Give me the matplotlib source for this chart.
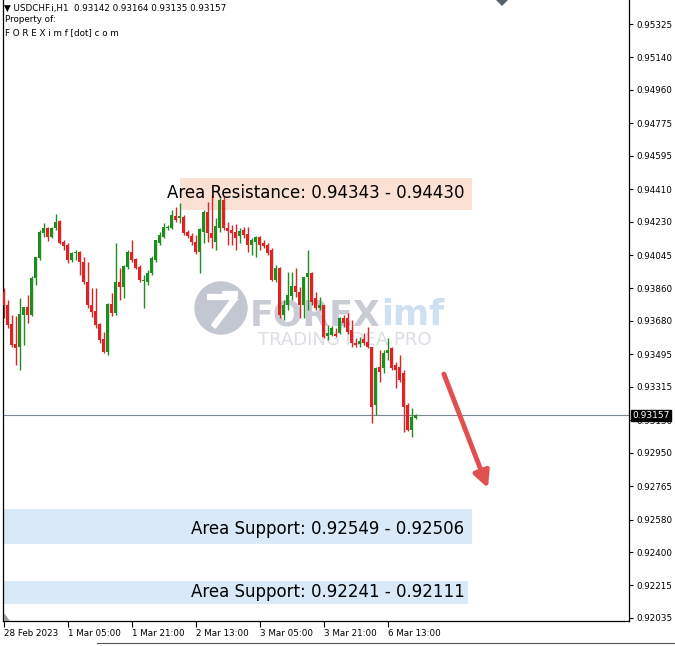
import numpy as np
import matplotlib
matplotlib.use("Agg")
from matplotlib import pyplot as plt
from matplotlib.patches import Rectangle, Circle, Polygon
from matplotlib.lines import Line2D
import matplotlib.transforms as mtransforms

# USDCHF.i H1 candles, 28 Feb 2023 13:00 -> 6 Mar 2023 20:00
opens = [
    0.93841, 0.93770, 0.93665, 0.93554, 0.93538, 0.93714, 0.93759, 0.93714, 0.93918, 0.94029,
    0.94167, 0.94195, 0.94145, 0.94195, 0.94234, 0.94117, 0.94101, 0.94018, 0.94057, 0.94062,
    0.94007, 0.93896, 0.93770, 0.93737, 0.93665, 0.93582, 0.93510, 0.93775, 0.93725, 0.93896,
    0.93869, 0.93979, 0.94062, 0.94023, 0.93979, 0.93902, 0.93896, 0.93946, 0.94018, 0.94112,
    0.94145, 0.94195, 0.94195, 0.94261, 0.94250, 0.94256, 0.94173, 0.94151, 0.94117, 0.94062,
    0.94173, 0.94284, 0.94167, 0.94117, 0.94195, 0.94350, 0.94195, 0.94184, 0.94173, 0.94151,
    0.94184, 0.94162, 0.94101, 0.94117, 0.94145, 0.94112, 0.94101, 0.94073, 0.93907, 0.93974,
    0.93714, 0.93770, 0.93819, 0.93874, 0.93841, 0.93770, 0.93924, 0.93946, 0.93808, 0.93753,
    0.93770, 0.93599, 0.93604, 0.93610, 0.93615, 0.93698, 0.93698, 0.93632, 0.93560, 0.93554,
    0.93582, 0.93565, 0.93538, 0.93217, 0.93427, 0.93422, 0.93505, 0.93532, 0.93438, 0.93427,
    0.93394, 0.93217, 0.93078, 0.93142]
closes = [
    0.93770, 0.93659, 0.93549, 0.93532, 0.93720, 0.93759, 0.93714, 0.93918, 0.94035, 0.94173,
    0.94195, 0.94145, 0.94195, 0.94228, 0.94112, 0.94095, 0.94018, 0.94057, 0.94062, 0.94007,
    0.93896, 0.93770, 0.93731, 0.93659, 0.93576, 0.93510, 0.93775, 0.93725, 0.93896, 0.93869,
    0.93985, 0.94062, 0.94018, 0.93974, 0.93907, 0.93907, 0.93946, 0.94029, 0.94129, 0.94156,
    0.94200, 0.94198, 0.94267, 0.94239, 0.94261, 0.94167, 0.94151, 0.94117, 0.94062, 0.94189,
    0.94284, 0.94167, 0.94140, 0.94206, 0.94350, 0.94195, 0.94178, 0.94167, 0.94140, 0.94178,
    0.94156, 0.94101, 0.94129, 0.94145, 0.94101, 0.94095, 0.94057, 0.93907, 0.93974, 0.93714,
    0.93770, 0.93825, 0.93874, 0.93841, 0.93770, 0.93924, 0.93946, 0.93786, 0.93753, 0.93770,
    0.93593, 0.93615, 0.93643, 0.93599, 0.93698, 0.93670, 0.93621, 0.93560, 0.93549, 0.93571,
    0.93560, 0.93538, 0.93206, 0.93422, 0.93400, 0.93505, 0.93521, 0.93422, 0.93411, 0.93355,
    0.93206, 0.93078, 0.93150, 0.93157]
highs = [
    0.93863, 0.93797, 0.93714, 0.93709, 0.93808, 0.93759, 0.93825, 0.93929, 0.94035, 0.94184,
    0.94223, 0.94200, 0.94200, 0.94272, 0.94239, 0.94129, 0.94112, 0.94062, 0.94073, 0.94068,
    0.94035, 0.94007, 0.93863, 0.93863, 0.93670, 0.93621, 0.93781, 0.93836, 0.94112, 0.93974,
    0.93990, 0.94073, 0.94129, 0.94029, 0.93990, 0.93935, 0.93963, 0.94040, 0.94129, 0.94173,
    0.94223, 0.94212, 0.94295, 0.94311, 0.94334, 0.94267, 0.94184, 0.94167, 0.94156, 0.94195,
    0.94295, 0.94339, 0.94378, 0.94250, 0.94361, 0.94372, 0.94228, 0.94212, 0.94217, 0.94195,
    0.94200, 0.94200, 0.94140, 0.94151, 0.94151, 0.94129, 0.94112, 0.94084, 0.93990, 0.93979,
    0.93797, 0.93951, 0.93951, 0.93974, 0.93869, 0.93924, 0.94073, 0.93951, 0.93841, 0.93814,
    0.93770, 0.93659, 0.93654, 0.93643, 0.93703, 0.93714, 0.93725, 0.93687, 0.93588, 0.93593,
    0.93615, 0.93648, 0.93538, 0.93427, 0.93521, 0.93521, 0.93588, 0.93538, 0.93455, 0.93494,
    0.93411, 0.93228, 0.93200, 0.93164]
lows = [
    0.93698, 0.93643, 0.93538, 0.93438, 0.93411, 0.93549, 0.93670, 0.93709, 0.93880, 0.94018,
    0.94145, 0.94123, 0.94140, 0.94184, 0.94107, 0.94073, 0.94001, 0.94007, 0.94018, 0.93935,
    0.93885, 0.93753, 0.93703, 0.93643, 0.93560, 0.93505, 0.93494, 0.93709, 0.93714, 0.93797,
    0.93808, 0.93968, 0.94007, 0.93968, 0.93896, 0.93753, 0.93880, 0.93935, 0.94007, 0.94101,
    0.94140, 0.94184, 0.94189, 0.94228, 0.94223, 0.94156, 0.94140, 0.94101, 0.94051, 0.93946,
    0.94112, 0.94117, 0.94084, 0.94073, 0.94173, 0.94184, 0.94101, 0.94101, 0.94073, 0.94112,
    0.94140, 0.94062, 0.94046, 0.94035, 0.94073, 0.94084, 0.94046, 0.93902, 0.93896, 0.93698,
    0.93687, 0.93742, 0.93797, 0.93814, 0.93698, 0.93698, 0.93742, 0.93770, 0.93742, 0.93742,
    0.93588, 0.93576, 0.93599, 0.93593, 0.93610, 0.93648, 0.93610, 0.93538, 0.93538, 0.93538,
    0.93549, 0.93532, 0.93117, 0.93161, 0.93344, 0.93394, 0.93466, 0.93411, 0.93311, 0.93344,
    0.93067, 0.93073, 0.93040, 0.93135]

time_tick_pos = [0, 16, 32, 48, 64, 80, 96]
time_tick_labels = ["28 Feb 2023", "1 Mar 05:00", "1 Mar 21:00", "2 Mar 13:00",
                    "3 Mar 05:00", "3 Mar 21:00", "6 Mar 13:00"]
price_ticks = [0.95325, 0.95140, 0.94960, 0.94775, 0.94595, 0.94410, 0.94230, 0.94045,
               0.93860, 0.93680, 0.93495, 0.93315, 0.93130, 0.92950, 0.92765, 0.92580,
               0.92400, 0.92215, 0.92035]

zone_labels = ["Area Resistance: 0.94343 - 0.94430",
               "Area Support: 0.92549 - 0.92506",
               "Area Support: 0.92241 - 0.92111"]
zone_mid = [0.943865, 0.925275, 0.92176]
box_low = [0.94295, 0.92444, 0.92112]
box_high = [0.94472, 0.92638, 0.92239]
box_left = [44.1, -0.125, -0.125]
box_right = [117.1, 117.1, 116.1]
box_colors = ["#fbe0d4", "#d9e9f8", "#d9e9f8"]

arrow_start = (110.1, 0.93386)
arrow_end = (121.1, 0.92754)

header = "\u25bc USDCHF.i,H1  0.93142 0.93164 0.93135 0.93157"

W, H = 675, 646
fig = plt.figure(figsize=(W / 100, H / 100), dpi=100)
ax = fig.add_axes([3 / W, 25 / H, 626 / W, 621 / H])
ax.set_xlim(-0.125, 156.375)
ax.set_ylim(0.92018, 0.95458)

o = np.array(opens)
c = np.array(closes)
hi = np.array(highs)
lo = np.array(lows)
x = np.arange(len(o))
up = c >= o
green, red = "#1f8c1f", "#e02222"
cols = np.where(up, green, red)

# watermark (behind the candles)
ax.add_patch(Circle((2.21, (H - 308) / 100), 0.26, transform=fig.dpi_scale_trans,
                    color="#c3c7d1", zorder=0, clip_on=False))
for seg in [[(207, 297), (236, 297)], [(236, 297), (213, 327)], [(222, 294), (238, 294)]]:
    xs = [p[0] / 100 for p in seg]
    ys = [(H - p[1]) / 100 for p in seg]
    ax.add_line(Line2D(xs, ys, transform=fig.dpi_scale_trans, color="white",
                       lw=4.5, solid_capstyle="butt", zorder=0.5))
ax.text(250 / W, 1 - 325 / H, "FOREX", transform=fig.transFigure, fontsize=25,
        fontweight="bold", color="#c9ccd5", va="baseline", ha="left", zorder=0)
ax.text(381 / W, 1 - 325 / H, "imf", transform=fig.transFigure, fontsize=25,
        fontweight="bold", color="#cfe0f1", va="baseline", ha="left", zorder=0)
ax.text(258 / W, 1 - 345 / H, "TRADING IDEA PRO", transform=fig.transFigure, fontsize=13,
        color="#dcdee4", va="baseline", ha="left", zorder=0)

# zone boxes and labels
for i in range(len(zone_labels)):
    ax.add_patch(Rectangle((box_left[i], box_low[i]), box_right[i] - box_left[i],
                           box_high[i] - box_low[i], facecolor=box_colors[i],
                           edgecolor="none", zorder=0.8))
    ax.text(115.2, zone_mid[i], zone_labels[i], ha="right", va="center",
            fontsize=12, color="black", zorder=5)

# candles
ax.vlines(x, lo, hi, colors=cols, linewidth=1.0, zorder=2)
body_bottom = np.minimum(o, c)
body_h = np.maximum(np.abs(c - o), 0.00003)
ax.bar(x, body_h, bottom=body_bottom, width=0.72, color=cols, linewidth=0, zorder=3)

# current price line
last = closes[-1]
ax.axhline(last, color="#7b8794", lw=0.8, zorder=1)

ax.annotate("", xy=arrow_end, xytext=arrow_start,
            arrowprops=dict(arrowstyle="-|>", color="#e05050", lw=3.5,
                            mutation_scale=24, shrinkA=0, shrinkB=0), zorder=6)

# axes styling
ax.spines["top"].set_visible(False)
for s in ["left", "right", "bottom"]:
    ax.spines[s].set_linewidth(0.9)
ax.yaxis.tick_right()
ax.set_yticks(price_ticks)
ax.set_yticklabels([f"{p:.5f}" for p in price_ticks])
ax.tick_params(axis="y", direction="out", length=3, width=0.8, labelsize=6.3, pad=2)
ax.set_xticks(time_tick_pos)
ax.set_xticklabels(time_tick_labels)
for lbl in ax.get_xticklabels():
    lbl.set_horizontalalignment("left")
ax.tick_params(axis="x", direction="out", length=4, width=0.8, labelsize=6.3, pad=2)

trans = mtransforms.blended_transform_factory(ax.transAxes, ax.transData)
ax.text(1.006, last, f"{last:.5f}", transform=trans, ha="left", va="center",
        fontsize=6.5, color="white", zorder=10,
        bbox=dict(boxstyle="square,pad=0.15", facecolor="black", edgecolor="black"))

# header texts
fig.text(4 / W, 1 - 8 / H, header, fontsize=6.3, va="center", ha="left")
fig.text(5 / W, 1 - 20 / H, "Property of:", fontsize=6.3, va="center", ha="left")
fig.text(5 / W, 1 - 33 / H, "F O R E X i m f [dot] c o m", fontsize=6.3, va="center", ha="left")

# small MT4 markers
fig.patches.append(Polygon([(4.96, 6.46), (5.08, 6.46), (5.02, 6.40)], closed=True,
                           transform=fig.dpi_scale_trans, facecolor="#56606a",
                           edgecolor="none"))
fig.patches.append(Polygon([(0.04, 0.25), (0.04, 0.33), (0.10, 0.25)], closed=True,
                           transform=fig.dpi_scale_trans, facecolor="#9a9a9a",
                           edgecolor="none"))
fig.lines.append(Line2D([0.97, 6.75], [0.03, 0.03], transform=fig.dpi_scale_trans,
                        color="#555555", lw=0.8))

fig.savefig("out.png", dpi=100)
